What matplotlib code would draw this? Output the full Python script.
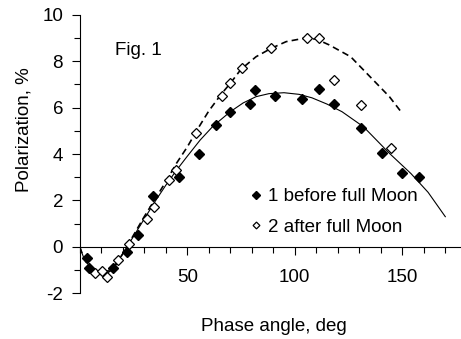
import matplotlib

matplotlib.use("Agg")
import matplotlib.pyplot as plt
from matplotlib.ticker import MultipleLocator

plt.rcParams["font.family"] = ["Liberation Sans", "DejaVu Sans"]
plt.rcParams["axes.unicode_minus"] = False

before_x = [3.3, 4.3, 15.6, 21.9, 27.0, 34.2, 46.2, 55.5, 63.4, 69.9,
            79.4, 81.7, 90.8, 103.3, 111.2, 118.4, 130.8, 140.6, 149.8, 157.7]
before_y = [-0.47, -0.93, -0.93, -0.22, 0.5, 2.19, 3.02, 4.0, 5.25, 5.79,
            6.15, 6.75, 6.5, 6.38, 6.78, 6.16, 5.13, 4.05, 3.19, 2.99]

after_x = [7.1, 10.2, 12.8, 18.0, 22.9, 31.2, 34.4, 41.6, 45.0, 54.2,
           66.3, 69.8, 75.6, 89.0, 105.6, 111.2, 118.1, 130.8, 144.9]
after_y = [-1.12, -1.03, -1.29, -0.57, 0.13, 1.18, 1.71, 2.87, 3.29, 4.9,
           6.5, 7.04, 7.69, 8.55, 9.0, 9.0, 7.18, 6.09, 4.28]

# fitted curves
fit1_x = [0, 2, 5, 8, 11, 14, 17, 20, 25, 30, 35, 40, 45, 50, 56, 62, 70,
          76, 82, 88, 95, 102, 108, 115, 122, 132, 144, 154, 162, 170]
fit1_y = [0, -0.5, -0.9, -1.08, -1.12, -0.98, -0.7, -0.3, 0.45, 1.2, 1.95,
          2.65, 3.3, 3.9, 4.6, 5.2, 5.82, 6.2, 6.47, 6.6, 6.64, 6.57, 6.42,
          6.15, 5.82, 5.17, 4.03, 3.16, 2.35, 1.3]

fit2_x = [0, 2, 5, 8, 11, 14, 17, 20, 25, 30, 35, 40, 45, 50, 55, 60, 66,
          70, 75, 82, 89, 96, 104, 110, 116, 126, 135, 144, 150]
fit2_y = [0, -0.5, -0.95, -1.15, -1.2, -1.05, -0.75, -0.3, 0.5, 1.3, 2.05,
          2.8, 3.6, 4.3, 5.1, 5.85, 6.6, 7.04, 7.65, 8.19, 8.55, 8.84, 8.98,
          8.95, 8.7, 8.19, 7.33, 6.47, 5.75]

labels = ["1 before full Moon", "2 after full Moon"]

FS = 13.5

fig = plt.figure(figsize=(4.61, 3.39), dpi=100)
ax = fig.add_axes([0.1729, 0.1348, 0.8271, 0.8218])

ax.plot(fit1_x, fit1_y, color="black", lw=0.8)
ax.plot(fit2_x, fit2_y, color="black", lw=1.2, dashes=(4, 2.5))
ax.plot(before_x, before_y, "D", ms=4.9, color="black", mec="black",
        label=labels[0], zorder=3)
ax.plot(after_x, after_y, "D", ms=4.6, mfc="white", mec="black", mew=0.9,
        label=labels[1], zorder=3)

ax.set_xlim(0, 177.3)
ax.set_ylim(-2, 10)

for side in ["top", "right"]:
    ax.spines[side].set_visible(False)
ax.spines["bottom"].set_position(("data", 0))
ax.spines["left"].set_linewidth(0.8)
ax.spines["bottom"].set_linewidth(0.8)

ax.xaxis.set_major_locator(MultipleLocator(50))
ax.xaxis.set_minor_locator(MultipleLocator(10))
ax.yaxis.set_major_locator(MultipleLocator(2))
ax.yaxis.set_minor_locator(MultipleLocator(1))
ax.set_xticks([50, 100, 150])
ax.tick_params(axis="x", which="major", direction="out", length=6, width=0.8,
               labelsize=FS, pad=10)
ax.tick_params(axis="x", which="minor", direction="out", length=4, width=0.8)
ax.tick_params(axis="y", which="major", direction="out", length=6, width=0.8,
               labelsize=FS, pad=6)
ax.tick_params(axis="y", which="minor", direction="out", length=4, width=0.8)

ax.set_xlabel("Phase angle, deg", fontsize=FS)
ax.set_ylabel("Polarization, %", fontsize=FS)
ax.xaxis.set_label_coords(0.51, -0.089)
ax.yaxis.set_label_coords(-0.1225, 0.586)

ax.text(16.4, 8.48, "Fig. 1", fontsize=FS, ha="left", va="center")

ax.legend(loc="center left", bbox_to_anchor=(0.447, 0.292), frameon=False,
          fontsize=FS, markerscale=0.75, handlelength=0.6, handletextpad=0.35,
          labelspacing=0.7, borderpad=0, borderaxespad=0)

fig.savefig("out.png", dpi=100)
